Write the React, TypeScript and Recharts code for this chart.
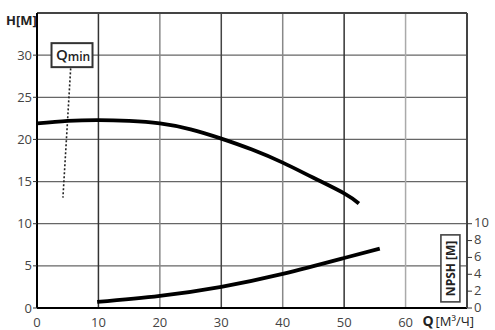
import React from 'react';
import { LineChart, Line, XAxis, YAxis, CartesianGrid, ReferenceLine, ReferenceDot } from 'recharts';

const headCurve = [
  { q: 0, h: 21.9 },
  { q: 5, h: 22.2 },
  { q: 10, h: 22.3 },
  { q: 15, h: 22.2 },
  { q: 20, h: 21.9 },
  { q: 25, h: 21.2 },
  { q: 30, h: 20.1 },
  { q: 35, h: 18.8 },
  { q: 40, h: 17.25 },
  { q: 45, h: 15.45 },
  { q: 50, h: 13.6 },
  { q: 52.4, h: 12.4 },
];

const npshCurve = [
  { q: 9.8, n: 0.72 },
  { q: 20, n: 1.44 },
  { q: 30, n: 2.52 },
  { q: 40, n: 4.05 },
  { q: 50, n: 5.93 },
  { q: 55.8, n: 7.05 },
];

const xTicks = [0, 10, 20, 30, 40, 50, 60];
const hTicks = [0, 5, 10, 15, 20, 25, 30];
const npshTicks = [0, 2, 4, 6, 8, 10];
const vGrid = [10, 20, 30, 40, 50, 60];
const vGridColors = ['#333', '#888', '#444', '#888', '#333', '#aaa'];
const qminLine = [
  { x: 5.52, y: 28.9 },
  { x: 4.22, y: 13.1 },
];

const FONT = '"Open Sans", "DejaVu Sans", sans-serif';

export default function App() {
  return (
    <div style={{ position: 'absolute', left: 0, top: 0, background: '#fff' }}>
      <LineChart width={495} height={330} margin={{ top: 13, right: 0, left: 0, bottom: 0 }}>
        <CartesianGrid vertical={false} stroke="#666" strokeWidth={1.3} yAxisId="left" />
        <XAxis
          dataKey="q"
          type="number"
          domain={[0, 70]}
          ticks={xTicks}
          interval={0}
          allowDataOverflow
          height={22}
          axisLine={{ stroke: '#000', strokeWidth: 2 }}
          tickLine={false}
          tickMargin={4}
          tick={{ fill: '#444', fontSize: 13, fontFamily: FONT }}
        />
        <YAxis
          yAxisId="left"
          type="number"
          domain={[0, 35]}
          ticks={hTicks}
          interval={0}
          width={37}
          axisLine={{ stroke: '#000', strokeWidth: 2 }}
          tickLine={{ stroke: '#333' }}
          tickSize={4}
          tickMargin={1}
          tick={{ fill: '#444', fontSize: 13, fontFamily: FONT }}
        />
        <YAxis
          yAxisId="right"
          orientation="right"
          type="number"
          domain={[0, 35]}
          ticks={npshTicks}
          interval={0}
          width={28}
          axisLine={{ stroke: '#444', strokeWidth: 2 }}
          tickLine={{ stroke: '#333' }}
          tickSize={5}
          tickMargin={2}
          tick={{ fill: '#444', fontSize: 13, fontFamily: FONT, dy: -1 }}
        />
        {vGrid.map((v, i) => (
          <ReferenceLine key={v} x={v} yAxisId="left" stroke={vGridColors[i]} strokeWidth={1.5} />
        ))}
        <ReferenceLine y={35} yAxisId="left" stroke="#444" strokeWidth={2} />
        <ReferenceLine
          yAxisId="left"
          segment={qminLine}
          stroke="#222"
          strokeWidth={1.6}
          strokeDasharray="2 2"
        />
        <Line
          yAxisId="left"
          data={headCurve}
          dataKey="h"
          type="natural"
          stroke="#000"
          strokeWidth={3.8}
          dot={false}
          isAnimationActive={false}
        />
        <Line
          yAxisId="right"
          data={npshCurve}
          dataKey="n"
          type="natural"
          stroke="#000"
          strokeWidth={3.8}
          dot={false}
          isAnimationActive={false}
        />
        <ReferenceDot
          yAxisId="left"
          x={5.7}
          y={30}
          r={0}
          shape={(p: any) => (
            <g>
              <rect x={p.cx - 20.5} y={p.cy - 12} width={41} height={24} fill="#fff" stroke="#333" strokeWidth={2} />
              <text x={p.cx - 16} y={p.cy + 5} fontFamily={FONT} fill="#222">
                <tspan fontSize={15} fontWeight={600}>Q</tspan>
                <tspan fontSize={12} fontWeight={600} dy={1}>min</tspan>
              </text>
            </g>
          )}
        />
        <ReferenceDot
          yAxisId="right"
          x={67.3}
          y={4.7}
          r={0}
          shape={(p: any) => (
            <g>
              <rect x={p.cx - 9.5} y={p.cy - 33.5} width={19} height={67} fill="#fff" stroke="#444" strokeWidth={1.6} />
              <text
                x={p.cx}
                y={p.cy}
                transform={`rotate(-90 ${p.cx} ${p.cy})`}
                textAnchor="middle"
                dominantBaseline="central"
                fontFamily={FONT}
                fontSize={12}
                fontWeight={700}
                fill="#222"
              >
                NPSH [М]
              </text>
            </g>
          )}
        />
        <ReferenceDot
          yAxisId="left"
          x={0}
          y={35}
          r={0}
          shape={(p: any) => (
            <text x={p.cx - 31} y={p.cy + 12} fontFamily={FONT} fontSize={13} fontWeight={700} fill="#222">
              H[М]
            </text>
          )}
        />
        <ReferenceDot
          yAxisId="left"
          x={62.5}
          y={0}
          r={0}
          shape={(p: any) => (
            <text x={p.cx + 1.5} y={p.cy + 18} fontFamily={FONT} fill="#222">
              <tspan fontSize={14} fontWeight={700}>Q</tspan>
              <tspan fontSize={13} dx={2}>[М³/Ч]</tspan>
            </text>
          )}
        />
      </LineChart>
    </div>
  );
}
